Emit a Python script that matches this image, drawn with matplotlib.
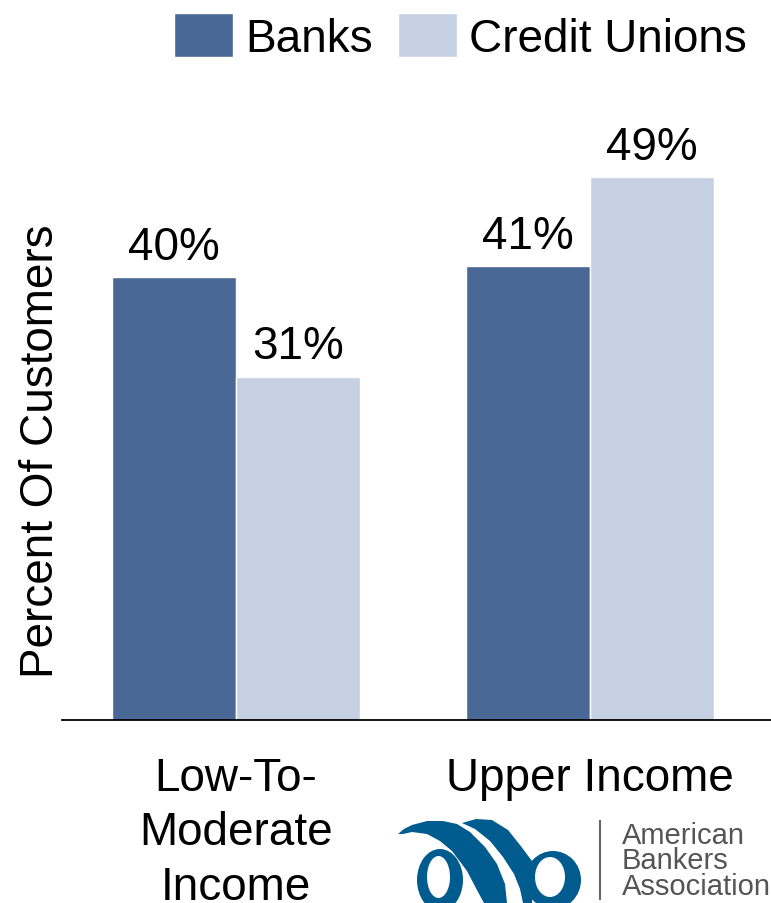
"""
Banks vs credit unions: share of customers by income group.
Grouped bar chart with ABA logo mark in the lower right.
"""

import numpy as np
import matplotlib
matplotlib.use("Agg")
import matplotlib.pyplot as plt
from matplotlib.patches import Ellipse, Polygon

plt.rcParams["font.family"] = ["Liberation Sans", "DejaVu Sans"]

CATEGORIES = ["Low-To-\nModerate\nIncome", "Upper Income"]
SERIES = ["Banks", "Credit Unions"]
BANKS = [40, 41]
CREDIT_UNIONS = [31, 49]
YLABEL = "Percent Of Customers"
LOGO_TEXT = "American\nBankers\nAssociation"

COLORS = ["#4A6896", "#C5D0E3"]
LOGO_BLUE = "#005B8F"
FS = 33


def draw_logo(fig):
    # pixel-coordinate overlay for the association mark
    lg = fig.add_axes([0, 0, 1, 1], zorder=5)
    lg.set_xlim(0, 771)
    lg.set_ylim(904, 0)
    lg.axis("off")
    blue = dict(color=LOGO_BLUE, lw=0)
    # bowls
    lg.add_patch(Ellipse((440, 881), 46, 62, **blue))
    lg.add_patch(Ellipse((553, 881), 56, 58, **blue))
    # swoosh 1: hook over the left bowl, down as its stem
    lg.add_patch(Polygon([(398, 835), (404, 830), (412, 826), (427, 822),
                          (443, 822), (457, 825), (470, 833), (485, 848),
                          (497, 865), (505, 885), (507, 904), (484, 904),
                          (478, 893), (467, 872), (452, 852), (440, 842),
                          (427, 835), (412, 833), (403, 835)],
                         closed=True, **blue))
    # swoosh 2: parallel stroke running into the right bowl
    lg.add_patch(Polygon([(462, 824), (475, 830), (490, 842), (503, 858),
                          (514, 875), (520, 890), (523, 904), (532, 904),
                          (534, 880), (532, 862), (520, 846), (508, 831),
                          (492, 821), (476, 820)],
                         closed=True, **blue))
    # bowl counters
    lg.add_patch(Ellipse((438.5, 878), 23, 42, color="white", lw=0))
    lg.add_patch(Ellipse((550, 878), 30, 40, color="white", lw=0))
    lg.plot([600, 600], [822, 900], color="#666666", lw=1.5)
    lg.text(622, 822, LOGO_TEXT, fontsize=21, color="#555555",
            va="top", ha="left", linespacing=0.88)


def main():
    fig = plt.figure(figsize=(7.71, 9.04), dpi=100)
    ax = fig.add_axes([62 / 771, 1 - 721 / 904, 1 - 62 / 771, (721 - 112) / 904])

    x = np.arange(len(CATEGORIES))
    w = 0.35
    for i, (name, vals) in enumerate(zip(SERIES, [BANKS, CREDIT_UNIONS])):
        bars = ax.bar(x + (i - 0.5) * w, vals, w, color=COLORS[i],
                      edgecolor="white", linewidth=1, label=name)
        for b, v in zip(bars, vals):
            ax.annotate(f"{v}%", (b.get_x() + b.get_width() / 2, v),
                        xytext=(0, 6), textcoords="offset points",
                        ha="center", va="bottom", fontsize=FS)

    ax.set_xlim(-0.49, 1.51)
    ax.set_ylim(0, 55)
    ax.set_xticks(x)
    ax.set_xticklabels(CATEGORIES, fontsize=FS, linespacing=1.3)
    ax.tick_params(axis="x", length=0, pad=26)
    ax.set_yticks([])
    for s in ["top", "right", "left"]:
        ax.spines[s].set_visible(False)
    ax.spines["bottom"].set_linewidth(1.3)
    ax.set_ylabel(YLABEL, fontsize=FS)
    ax.yaxis.set_label_coords(1 / 709, (721 - 451) / 609)

    fig.legend(loc="upper right", bbox_to_anchor=(770 / 771, 1 + 9 / 904),
               ncol=2, frameon=False, fontsize=FS, borderpad=0,
               handlelength=1.3, handleheight=1.1, handletextpad=0.26,
               columnspacing=0.55)

    draw_logo(fig)
    fig.savefig("out.png", dpi=100)


if __name__ == "__main__":
    main()
